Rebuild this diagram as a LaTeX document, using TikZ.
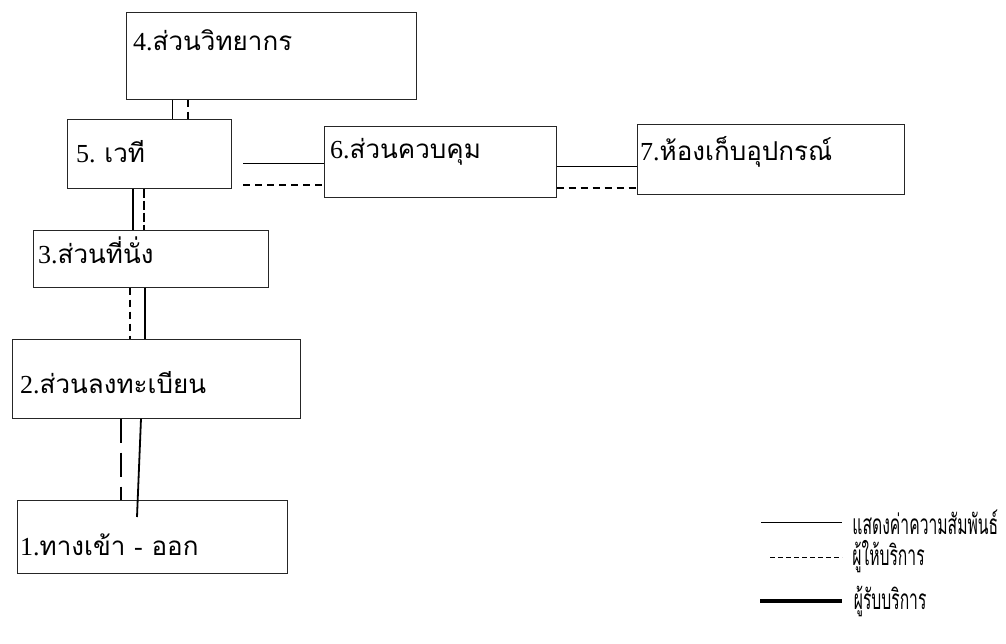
\documentclass[tikz,border=0pt]{standalone}
\usepackage{fontspec}
\newfontfamily\thaifont[Script=Thai]{Loma}
\newfontfamily\keyfont[Script=Thai,FakeStretch=0.56]{Loma}
\newfontfamily\digfont{Liberation Serif}
\newcommand\dig[1]{{\digfont #1}}
\tikzset{
  room/.style={draw=black!85,line width=.7pt,rectangle,anchor=north west,inner sep=0pt},
  roomtext/.style={anchor=west,font=\thaifont\fontsize{26}{30}\selectfont,inner sep=0pt},
  keytext/.style={anchor=west,font=\keyfont\fontsize{28}{32}\selectfont,inner sep=0pt},
  rel/.style={line width=.9pt},
  giver/.style={line width=1.1pt,dash pattern=on 7pt off 5pt},
  taker/.style={line width=2.8pt},
}
\begin{document}
\begin{tikzpicture}[x=1pt,y=-1pt]
  \path[use as bounding box] (0,0) rectangle (1006,644);
  % rooms
  \node[room,minimum width=290pt,minimum height=87pt] (r4) at (126,12) {};
  \node[room,minimum width=164pt,minimum height=69pt] (r5) at (67,119) {};
  \node[room,minimum width=232pt,minimum height=71pt] (r6) at (324,126) {};
  \node[room,minimum width=267pt,minimum height=70pt] (r7) at (637,124) {};
  \node[room,minimum width=235pt,minimum height=57pt] (r3) at (33,230) {};
  \node[room,minimum width=288pt,minimum height=79pt] (r2) at (12,339) {};
  \node[room,minimum width=270pt,minimum height=73pt] (r1) at (17,500) {};
  \node[roomtext] (t4) at (133,40) {\dig{4.}ส่วนวิทยากร};
  \node[roomtext] (t5) at (76,152) {\dig{5. }เวที};
  \node[roomtext] (t6) at (330,152) {\dig{6.}ส่วนควบคุม};
  \node[roomtext] (t7) at (640,152) {\dig{7.}ห้องเก็บอุปกรณ์};
  \node[roomtext] (t3) at (38,250) {\dig{3.}ส่วนที่นั่ง};
  \node[roomtext] (t2) at (20,383) {\dig{2.}ส่วนลงทะเบียน};
  \node[roomtext] (t1) at (20,545) {\dig{1.}ทางเข้า \dig{-} ออก};
  % links
  \draw[rel] (r4.south -| 172,0) -- (r5.north -| 172,0);
  \draw[giver] (r4.south -| 188,0) -- (r5.north -| 188,0);
  \coordinate (a5) at (243,163);
  \coordinate (b5) at (243,185);
  \draw[rel] (a5) -- (a5 -| r6.west);
  \draw[giver] (b5) -- (b5 -| r6.west);
  \draw[rel] (r6.east |- 0,166) -- (r7.west |- 0,166);
  \draw[giver] (r6.east |- 0,188) -- (r7.west |- 0,188);
  \draw[taker] (r5.south -| 133,0) -- (r3.north -| 133,0);
  \draw[giver,line width=2.4pt,dash pattern=on 9pt off 3pt] (r5.south -| 144,0) -- (r3.north -| 144,0);
  \draw[giver,line width=1.6pt] (r3.south -| 130,0) -- (r2.north -| 130,0);
  \draw[taker] (r3.south -| 145,0) -- (r2.north -| 145,0);
  \coordinate (e1) at (137,517);
  \draw[giver,line width=1.8pt,dash pattern=on 24pt off 10pt] (r2.south -| 121,0) -- (r1.north -| 121,0);
  \draw[line width=1.8pt] (r2.south -| 141,0) -- (e1);
  % legend
  \coordinate (k1) at (761,522);
  \coordinate (k2) at (770,557);
  \coordinate (k3) at (760,601);
  \draw[rel] (k1) -- ++(81,0) node[keytext,right=10pt] (l1) {แสดงค่าความสัมพันธ์};
  \draw[line width=.8pt,dash pattern=on 5pt off 3pt] (k2) -- ++(72,0) node[keytext,right=10pt] (l2) {ผู้ให้บริการ};
  \draw[line width=3.6pt] (k3) -- ++(82,0) node[keytext,right=10pt] (l3) {ผู้รับบริการ};
\end{tikzpicture}
\end{document}
